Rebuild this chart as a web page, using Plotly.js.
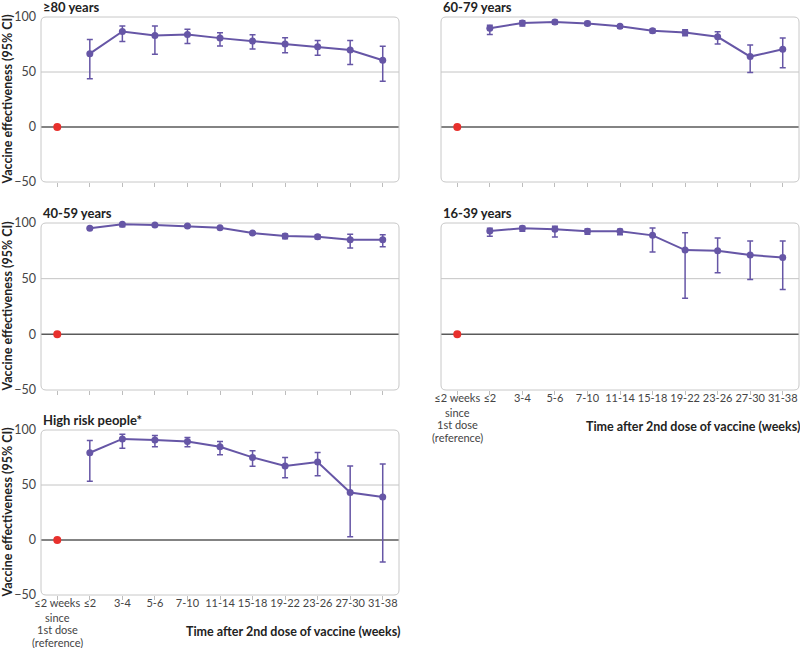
<!DOCTYPE html>
<html>
<head>
<meta charset="utf-8">
<script src="https://cdn.plot.ly/plotly-3.0.1.min.js"></script>
<style>html,body{margin:0;padding:0;background:#fff;}#chart{width:800px;height:648px;}</style>
</head>
<body>
<div id="chart"></div>
<script>
const categories = ["≤2 weeks","≤2","3-4","5-6","7-10","11-14","15-18","19-22","23-26","27-30","31-38"];
const refLabelLines = ["since","1st dose","(reference)"];
const panelTitles = ["≥80 years","60-79 years","40-59 years","16-39 years","High risk people*"];
const yTickVals = [-50, 0, 50, 100];
const referenceValue = [0];

const ve80 = [66.7, 86.8, 83.2, 84.1, 80.8, 78.1, 75.4, 73.0, 70.0, 60.7];
const lo80 = [43.8, 77.8, 66.1, 76.0, 73.6, 70.9, 67.6, 65.2, 56.8, 41.7];
const hi80 = [79.6, 91.9, 91.9, 88.9, 85.6, 83.8, 81.1, 78.7, 78.7, 73.3];

const ve6079 = [89.8, 94.6, 95.5, 94.0, 91.6, 87.4, 85.9, 82.0, 64.0, 70.6];
const lo6079 = [84.1, 91.9, 93.7, 92.5, 90.0, 85.6, 82.9, 75.4, 49.5, 53.8];
const hi6079 = [92.5, 96.7, 97.0, 95.8, 93.0, 89.0, 88.3, 86.5, 74.5, 81.0];

const ve4059 = [95.2, 98.8, 98.2, 97.3, 95.8, 91.0, 88.3, 87.7, 85.0, 85.0];
const lo4059 = [94.3, 96.6, 97.4, 96.5, 95.0, 90.0, 85.9, 85.9, 77.5, 78.7];
const hi4059 = [96.0, 99.9, 98.9, 98.0, 96.5, 92.0, 90.1, 89.2, 89.8, 89.5];

const ve1639 = [92.8, 95.2, 94.3, 92.5, 92.5, 88.9, 75.7, 75.1, 71.2, 69.1];
const lo1639 = [88.0, 92.5, 87.4, 90.0, 89.5, 73.9, 32.4, 55.3, 49.2, 40.2];
const hi1639 = [95.2, 97.0, 97.0, 94.6, 94.3, 95.5, 91.3, 86.5, 83.8, 83.8];

const veRisk = [79.3, 91.9, 91.0, 89.5, 84.7, 75.1, 67.3, 70.9, 43.2, 39.0];
const loRisk = [53.5, 83.5, 84.7, 84.7, 77.5, 67.0, 56.5, 58.3, 3.0, -20.1];
const hiRisk = [90.4, 96.1, 94.9, 93.1, 89.5, 81.1, 75.1, 79.6, 67.3, 69.1];

const series = [[ve80, lo80, hi80],[ve6079, lo6079, hi6079],[ve4059, lo4059, hi4059],[ve1639, lo1639, hi1639],[veRisk, loRisk, hiRisk]];

const W = 800, H = 648;
// panel boxes in pixels: [left, right, top, bottom]
const boxes = [
  [41, 399, 17, 182],
  [441, 799, 17, 182],
  [41, 399, 223, 390],
  [441, 799, 223, 390],
  [41, 399, 430, 595]
];
const showX = [false, false, false, true, true];
const showY = [true, false, true, false, true];

const purple = '#6656a6';
const red = '#e8302c';
const font = 'Lato, "Open Sans", sans-serif';
const tickFont = {family: font, size: 11, color: '#444'};

const data = [];
const layout = {
  width: W, height: H,
  margin: {l:0, r:0, t:0, b:0},
  paper_bgcolor: '#fff', plot_bgcolor: 'rgba(0,0,0,0)',
  showlegend: false,
  font: {family: font, color: '#333', size: 12},
  shapes: [], annotations: []
};

boxes.forEach((b, i) => {
  const n = i + 1;
  const xa = 'x' + (n === 1 ? '' : n), ya = 'y' + (n === 1 ? '' : n);
  const xk = 'xaxis' + (n === 1 ? '' : n), yk = 'yaxis' + (n === 1 ? '' : n);
  const x0 = b[0]/W, x1 = b[1]/W, yTop = 1 - b[2]/H, yBot = 1 - b[3]/H;
  const [ve, lo, hi] = series[i];
  layout[xk] = {
    domain: [x0, x1], anchor: ya, type: 'category',
    categoryorder: 'array', categoryarray: categories,
    range: [-0.5, 10.5], showgrid: false, zeroline: false, showline: false,
    ticks: 'outside', ticklen: 4, tickcolor: '#bdbdbd', tickwidth: 1,
    showticklabels: showX[i], ticklabelstandoff: -6, tickfont: tickFont,
    tickangle: 0, fixedrange: true
  };
  layout[yk] = {
    domain: [yBot, yTop], anchor: xa, range: [-50, 100],
    tickvals: yTickVals, showgrid: false, zeroline: false, showline: false,
    ticks: '', showticklabels: showY[i], ticklabelstandoff: 4,
    tickfont: {family: font, size: 12.5, color: '#444'}, fixedrange: true
  };
  // grid lines
  layout.shapes.push({type:'line', xref: xa + ' domain', yref: ya, x0:0, x1:1, y0:50, y1:50, line:{color:'#c4c4c4', width:1}, layer:'below'});
  layout.shapes.push({type:'line', xref: xa + ' domain', yref: ya, x0:0, x1:1, y0:0, y1:0, line:{color:'#5a5a5a', width:1.5}, layer:'below'});
  // rounded border
  const rx = 5/W, ry = 5/H;
  const p = `M ${x0+rx},${yTop} L ${x1-rx},${yTop} Q ${x1},${yTop} ${x1},${yTop-ry} L ${x1},${yBot+ry} Q ${x1},${yBot} ${x1-rx},${yBot} L ${x0+rx},${yBot} Q ${x0},${yBot} ${x0},${yBot+ry} L ${x0},${yTop-ry} Q ${x0},${yTop} ${x0+rx},${yTop} Z`;
  layout.shapes.push({type:'path', xref:'paper', yref:'paper', path:p, line:{color:'#c8c8c8', width:1}, layer:'below'});
  // title
  layout.annotations.push({xref:'paper', yref:'paper', x: x0, y: yTop + 10/H, xanchor:'left', yanchor:'middle', showarrow:false,
    text: '<b>' + panelTitles[i] + '</b>', font:{family: font, size: 13, color:'#222'}});
  if (showY[i]) {
    layout.annotations.push({xref:'paper', yref:'paper', x: 7/W, y: (yTop+yBot)/2, xanchor:'center', yanchor:'middle', showarrow:false, textangle:-90,
      text: '<b>Vaccine effectiveness (95% CI)</b>', font:{family: font, size: 12.5, color:'#222'}});
  }
  if (showX[i]) {
    layout.annotations.push({xref:'paper', yref:'paper', x: x1 + 3/W, y: yBot - 36/H, xanchor:'right', yanchor:'middle', showarrow:false,
      text: '<b>Time after 2nd dose of vaccine (weeks)</b>', font:{family: font, size: 12.5, color:'#222'}});
    refLabelLines.forEach((t, k) => {
      layout.annotations.push({xref: xa, yref:'paper', x: categories[0], y: 1 - (b[3] + 22 + 12.5*k)/H,
        xanchor:'center', yanchor:'middle', showarrow:false, text: t, font: tickFont});
    });
  }
  data.push({
    type:'scatter', mode:'lines+markers', xaxis: xa, yaxis: ya,
    x: categories.slice(1), y: ve,
    line:{color: purple, width: 2}, marker:{color: purple, size: 7},
    error_y:{type:'data', symmetric:false, array: hi.map((h,k)=>h-ve[k]), arrayminus: lo.map((l,k)=>ve[k]-l),
      color: purple, thickness: 1.5, width: 3},
    cliponaxis: false, hoverinfo:'skip'
  });
  data.push({
    type:'scatter', mode:'markers', xaxis: xa, yaxis: ya,
    x: [categories[0]], y: referenceValue,
    marker:{color: red, size: 8}, cliponaxis:false, hoverinfo:'skip'
  });
});

Plotly.newPlot('chart', data, layout, {staticPlot: true});
</script>
</body>
</html>
